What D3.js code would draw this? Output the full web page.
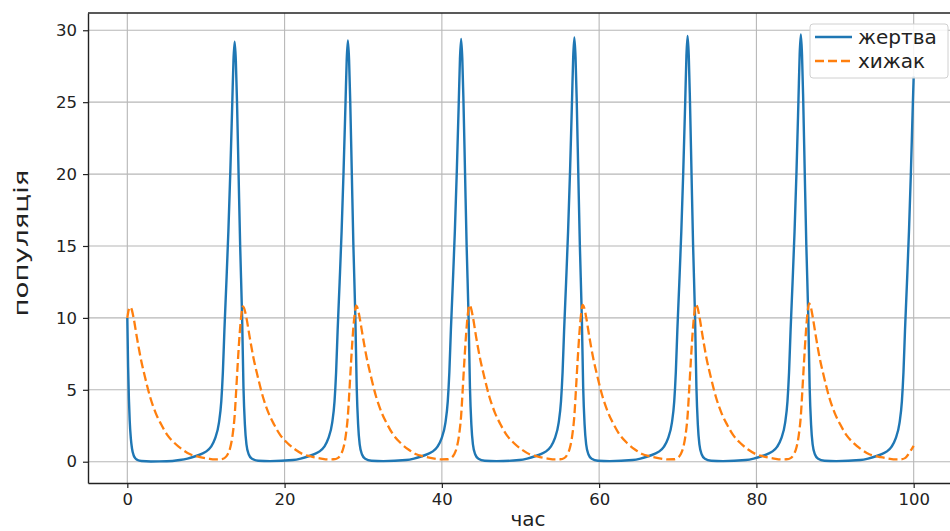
<!DOCTYPE html>
<html>
<head>
<meta charset="utf-8">
<script src="https://cdn.jsdelivr.net/npm/d3@7"></script>
<style>
  body { margin: 0; background: #fff; }
  svg { display: block; }
  text { font-family: "DejaVu Sans", sans-serif; }
</style>
</head>
<body>
<svg id="chart" width="950" height="531"></svg>
<script>
// Lotka–Volterra run: prey ("жертва") and predator ("хижак") over time
const seriesNames = ["жертва", "хижак"];
const xTicks = [0, 20, 40, 60, 80, 100];
const yTicks = [0, 5, 10, 15, 20, 25, 30];
const xLabel = "час";
const yLabel = "популяція";

const preyTime = [
  0, 0.1, 0.2, 0.3, 0.45, 0.6, 0.8, 1.0, 1.3, 1.8, 3.0, 5.0,
  6.65, 7.65, 8.65, 9.45, 10.05, 10.65, 11.15, 11.65, 11.95, 12.15, 12.35, 12.6, 12.85, 13.1, 13.35, 13.5, 13.65, 13.8, 13.95, 14.15, 14.35, 14.6, 14.77, 14.95, 15.15, 15.45, 15.85, 16.65, 18.15,
  21.05, 22.05, 23.05, 23.85, 24.45, 25.05, 25.55, 26.05, 26.35, 26.55, 26.75, 27.0, 27.25, 27.5, 27.75, 27.9, 28.05, 28.2, 28.35, 28.55, 28.75, 29.0, 29.17, 29.35, 29.55, 29.85, 30.25, 31.05, 32.55,
  35.45, 36.45, 37.45, 38.25, 38.85, 39.45, 39.95, 40.45, 40.75, 40.95, 41.15, 41.4, 41.65, 41.9, 42.15, 42.3, 42.45, 42.6, 42.75, 42.95, 43.15, 43.4, 43.57, 43.75, 43.95, 44.25, 44.65, 45.45, 46.95,
  49.85, 50.85, 51.85, 52.65, 53.25, 53.85, 54.35, 54.85, 55.15, 55.35, 55.55, 55.8, 56.05, 56.3, 56.55, 56.7, 56.85, 57.0, 57.15, 57.35, 57.55, 57.8, 57.97, 58.15, 58.35, 58.65, 59.05, 59.85, 61.35,
  64.25, 65.25, 66.25, 67.05, 67.65, 68.25, 68.75, 69.25, 69.55, 69.75, 69.95, 70.2, 70.45, 70.7, 70.95, 71.1, 71.25, 71.4, 71.55, 71.75, 71.95, 72.2, 72.37, 72.55, 72.75, 73.05, 73.45, 74.25, 75.75,
  78.65, 79.65, 80.65, 81.45, 82.05, 82.65, 83.15, 83.65, 83.95, 84.15, 84.35, 84.6, 84.85, 85.1, 85.35, 85.5, 85.65, 85.8, 85.95, 86.15, 86.35, 86.6, 86.77, 86.95, 87.15, 87.45, 87.85, 88.65, 90.15,
  93.2, 94.2, 95.2, 96.0, 96.6, 97.2, 97.7, 98.2, 98.5, 98.7, 98.9, 99.15, 99.4, 99.65, 99.9, 100.0
];
const preyValues = [
  10, 6.6, 4.4, 2.9, 1.6, 0.9, 0.45, 0.25, 0.12, 0.05, 0.02, 0.03,
  0.12, 0.22, 0.38, 0.55, 0.72, 1.05, 1.6, 2.7, 4.2, 6.2, 9.2, 12.5, 16.0, 20.2, 25.0, 27.9, 29.2, 27.9, 25.0, 20.0, 15.0, 10.0, 5.2, 2.6, 1.2, 0.5, 0.2, 0.07, 0.04,
  0.12, 0.22, 0.38, 0.55, 0.72, 1.05, 1.6, 2.7, 4.2, 6.2, 9.2, 12.5, 16.0, 20.2, 25.0, 27.95, 29.3, 27.95, 25.0, 20.0, 15.0, 10.0, 5.2, 2.6, 1.2, 0.5, 0.2, 0.07, 0.04,
  0.12, 0.22, 0.38, 0.55, 0.72, 1.05, 1.6, 2.7, 4.2, 6.2, 9.2, 12.5, 16.0, 20.2, 25.0, 28.0, 29.4, 28.0, 25.0, 20.0, 15.0, 10.0, 5.2, 2.6, 1.2, 0.5, 0.2, 0.07, 0.04,
  0.12, 0.22, 0.38, 0.55, 0.72, 1.05, 1.6, 2.7, 4.2, 6.2, 9.2, 12.5, 16.0, 20.2, 25.1, 28.1, 29.5, 28.1, 25.1, 20.0, 15.0, 10.0, 5.2, 2.6, 1.2, 0.5, 0.2, 0.07, 0.04,
  0.12, 0.22, 0.38, 0.55, 0.72, 1.05, 1.6, 2.7, 4.2, 6.2, 9.2, 12.5, 16.0, 20.2, 25.1, 28.2, 29.6, 28.2, 25.1, 20.0, 15.0, 10.0, 5.2, 2.6, 1.2, 0.5, 0.2, 0.07, 0.04,
  0.12, 0.22, 0.38, 0.55, 0.72, 1.05, 1.6, 2.7, 4.2, 6.2, 9.2, 12.5, 16.0, 20.2, 25.2, 28.3, 29.7, 28.3, 25.2, 20.0, 15.0, 10.0, 5.2, 2.6, 1.2, 0.5, 0.2, 0.07, 0.04,
  0.12, 0.22, 0.38, 0.55, 0.72, 1.05, 1.6, 2.7, 4.2, 6.2, 9.2, 12.5, 16.0, 20.2, 25.0, 26.8
];

const predatorTime = [
  0, 0.15, 0.35, 0.55, 0.8, 1.2, 1.7, 2.2, 2.9, 3.6, 4.3, 5.1, 6.0, 7.0, 8.0, 8.7,
  9.25, 10.25, 11.15, 11.85, 12.35, 12.75, 13.1, 13.4, 13.65, 13.85, 14.05, 14.3, 14.5, 14.7, 14.9, 15.15, 15.55, 16.05, 16.55, 17.25, 17.95, 18.65, 19.45, 20.35, 21.35, 22.35, 23.05,
  23.65, 24.65, 25.55, 26.25, 26.75, 27.15, 27.5, 27.8, 28.05, 28.25, 28.45, 28.7, 28.9, 29.1, 29.3, 29.55, 29.95, 30.45, 30.95, 31.65, 32.35, 33.05, 33.85, 34.75, 35.75, 36.75, 37.45,
  38.05, 39.05, 39.95, 40.65, 41.15, 41.55, 41.9, 42.2, 42.45, 42.65, 42.85, 43.1, 43.3, 43.5, 43.7, 43.95, 44.35, 44.85, 45.35, 46.05, 46.75, 47.45, 48.25, 49.15, 50.15, 51.15, 51.85,
  52.45, 53.45, 54.35, 55.05, 55.55, 55.95, 56.3, 56.6, 56.85, 57.05, 57.25, 57.5, 57.7, 57.9, 58.1, 58.35, 58.75, 59.25, 59.75, 60.45, 61.15, 61.85, 62.65, 63.55, 64.55, 65.55, 66.25,
  66.85, 67.85, 68.75, 69.45, 69.95, 70.35, 70.7, 71.0, 71.25, 71.45, 71.65, 71.9, 72.1, 72.3, 72.5, 72.75, 73.15, 73.65, 74.15, 74.85, 75.55, 76.25, 77.05, 77.95, 78.95, 79.95, 80.65,
  81.25, 82.25, 83.15, 83.85, 84.35, 84.75, 85.1, 85.4, 85.65, 85.85, 86.05, 86.3, 86.5, 86.7, 86.9, 87.15, 87.55, 88.05, 88.55, 89.25, 89.95, 90.65, 91.45, 92.35, 93.35, 94.35, 95.05,
  95.8, 96.8, 97.7, 98.4, 98.9, 99.3, 99.65, 100.0
];
const predatorValues = [
  10.0, 10.5, 10.75, 10.6, 10.0, 8.7, 7.2, 6.0, 4.5, 3.4, 2.6, 1.85, 1.3, 0.85, 0.52, 0.4,
  0.32, 0.22, 0.16, 0.17, 0.25, 0.5, 1.0, 1.9, 3.2, 5.0, 6.9, 9.0, 10.2, 10.8, 10.6, 10.0, 8.7, 7.2, 6.0, 4.5, 3.4, 2.6, 1.85, 1.3, 0.85, 0.52, 0.4,
  0.32, 0.22, 0.16, 0.17, 0.25, 0.5, 1.0, 1.9, 3.2, 5.0, 6.9, 9.0, 10.2, 10.85, 10.65, 10.0, 8.7, 7.2, 6.0, 4.5, 3.4, 2.6, 1.85, 1.3, 0.85, 0.52, 0.4,
  0.32, 0.22, 0.16, 0.17, 0.25, 0.5, 1.0, 1.9, 3.2, 5.0, 6.9, 9.0, 10.25, 10.9, 10.7, 10.05, 8.7, 7.2, 6.0, 4.5, 3.4, 2.6, 1.85, 1.3, 0.85, 0.52, 0.4,
  0.32, 0.22, 0.16, 0.17, 0.25, 0.5, 1.0, 1.9, 3.2, 5.0, 6.9, 9.0, 10.25, 10.9, 10.7, 10.05, 8.7, 7.2, 6.0, 4.5, 3.4, 2.6, 1.85, 1.3, 0.85, 0.52, 0.4,
  0.32, 0.22, 0.16, 0.17, 0.25, 0.5, 1.0, 1.9, 3.2, 5.0, 6.9, 9.05, 10.3, 10.95, 10.75, 10.1, 8.75, 7.2, 6.0, 4.5, 3.4, 2.6, 1.85, 1.3, 0.85, 0.52, 0.4,
  0.32, 0.22, 0.16, 0.17, 0.25, 0.5, 1.0, 1.9, 3.2, 5.0, 6.9, 9.05, 10.35, 11.0, 10.8, 10.1, 8.75, 7.2, 6.0, 4.5, 3.4, 2.6, 1.85, 1.3, 0.85, 0.52, 0.4,
  0.32, 0.22, 0.16, 0.17, 0.25, 0.5, 0.8, 1.1
];

const colors = ["#1f77b4", "#ff7f0e"];

const svg = d3.select("#chart");
const plot = { left: 88, top: 13, right: 953, bottom: 483 };

const x = d3.scaleLinear().domain([-5, 105]).range([plot.left, plot.right]);
const y = d3.scaleLinear().domain([-1.48, 31.2]).range([plot.bottom, plot.top]);

svg.append("rect").attr("width", 950).attr("height", 531).attr("fill", "#fff");

// grid
const grid = svg.append("g").attr("stroke", "#b0b0b0").attr("stroke-width", 1.1).attr("opacity", 0.9);
grid.selectAll("line.gx").data(xTicks).join("line")
  .attr("x1", d => x(d)).attr("x2", d => x(d))
  .attr("y1", plot.top).attr("y2", plot.bottom);
grid.selectAll("line.gy").data(yTicks).join("line")
  .attr("x1", plot.left).attr("x2", plot.right)
  .attr("y1", d => y(d)).attr("y2", d => y(d));

// series
const prey = d3.zip(preyTime, preyValues);
const predator = d3.zip(predatorTime, predatorValues);
const line = d3.line().x(d => x(d[0])).y(d => y(d[1])).curve(d3.curveMonotoneX);

svg.append("path").datum(prey)
  .attr("fill", "none").attr("stroke", colors[0]).attr("stroke-width", 2.4)
  .attr("stroke-linejoin", "round").attr("d", line);
svg.append("path").datum(predator)
  .attr("fill", "none").attr("stroke", colors[1]).attr("stroke-width", 2.3)
  .attr("stroke-dasharray", "9,4").attr("d", line);

// axes
const xAxis = svg.append("g").attr("transform", `translate(0,${plot.bottom})`)
  .call(d3.axisBottom(x).tickValues(xTicks).tickSize(5).tickPadding(5).tickSizeOuter(0));
const yAxis = svg.append("g").attr("transform", `translate(${plot.left},0)`)
  .call(d3.axisLeft(y).tickValues(yTicks).tickSize(5).tickPadding(6).tickSizeOuter(0));
[xAxis, yAxis].forEach(g => {
  g.select(".domain").attr("stroke", "#222").attr("stroke-width", 1.4);
  g.selectAll(".tick line").attr("stroke", "#222").attr("stroke-width", 1.2);
  g.selectAll(".tick text").attr("fill", "#222").style("font-size", "16.5px")
    .style("font-family", "DejaVu Sans, sans-serif");
});
svg.append("line").attr("x1", plot.left).attr("x2", plot.right)
  .attr("y1", plot.top).attr("y2", plot.top).attr("stroke", "#222").attr("stroke-width", 1.4);

// axis titles
svg.append("text").attr("x", 528).attr("y", 526).attr("text-anchor", "middle")
  .attr("fill", "#222").style("font-size", "20px").text(xLabel);
svg.append("text").attr("transform", "translate(28,243) rotate(-90)")
  .attr("text-anchor", "middle").attr("fill", "#222").style("font-size", "19px")
  .attr("textLength", 147).attr("lengthAdjust", "spacingAndGlyphs").text(yLabel);

// legend
const legend = svg.append("g");
legend.append("rect").attr("x", 810).attr("y", 24).attr("width", 138).attr("height", 54)
  .attr("rx", 3).attr("fill", "#fff").attr("fill-opacity", 0.85)
  .attr("stroke", "#d0d0d0").attr("stroke-width", 1);
seriesNames.forEach((name, i) => {
  const cy = 37 + i * 24;
  legend.append("line").attr("x1", 815).attr("x2", 852).attr("y1", cy).attr("y2", cy)
    .attr("stroke", colors[i]).attr("stroke-width", 2.3)
    .attr("stroke-dasharray", i === 1 ? "9,4" : null);
  legend.append("text").attr("x", 858).attr("y", cy).attr("dy", "0.35em")
    .attr("fill", "#222").style("font-size", "20px").text(name);
});
</script>
</body>
</html>
